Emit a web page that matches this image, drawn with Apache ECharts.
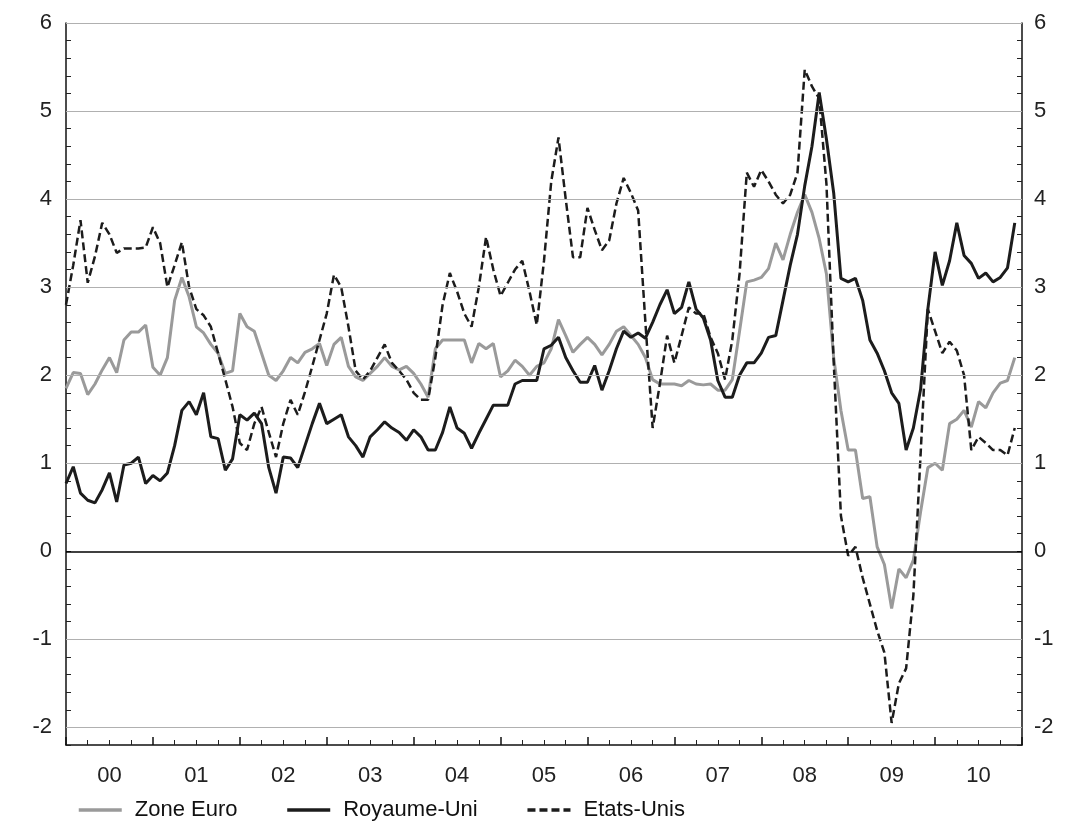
<!DOCTYPE html>
<html><head><meta charset="utf-8">
<script src="https://cdn.jsdelivr.net/npm/echarts@6/dist/echarts.min.js"></script>
<style>html,body{margin:0;padding:0;background:#fff}#c{width:1073px;height:822px}</style>
</head><body><div id="c"></div>
<script>
const yearLabels = ['00','01','02','03','04','05','06','07','08','09','10'];
const seriesNames = ['Zone Euro','Royaume-Uni','Etats-Unis'];
const gridValues = [-2,-1,1,2,3,4,5,6];
// monthly values Jan 2000 - Dec 2010
const zoneEuro = [
 1.85,2.03,2.02,1.78,1.9,2.06,2.2,2.03,2.4,2.49,2.49,2.57,
 2.09,2.0,2.2,2.85,3.11,2.89,2.55,2.48,2.35,2.25,2.02,2.05,
 2.7,2.55,2.5,2.25,2.0,1.94,2.05,2.2,2.14,2.26,2.3,2.36,
 2.11,2.35,2.43,2.1,1.98,1.94,2.02,2.1,2.2,2.1,2.06,2.1,
 2.02,1.9,1.75,2.3,2.4,2.4,2.4,2.4,2.14,2.36,2.3,2.36,
 1.98,2.05,2.17,2.1,2.0,2.1,2.14,2.3,2.63,2.45,2.26,2.35,
 2.43,2.35,2.23,2.35,2.5,2.55,2.45,2.35,2.2,1.95,1.9,1.9,
 1.9,1.88,1.94,1.9,1.89,1.9,1.83,1.83,1.95,2.5,3.06,3.08,
 3.11,3.21,3.5,3.31,3.6,3.85,4.05,3.85,3.55,3.15,2.2,1.6,
 1.15,1.15,0.6,0.62,0.05,-0.15,-0.65,-0.2,-0.3,-0.1,0.45,0.95,
 1.0,0.92,1.45,1.5,1.6,1.41,1.7,1.63,1.8,1.91,1.94,2.2
];
const royaumeUni = [
 0.77,0.96,0.66,0.58,0.55,0.7,0.89,0.56,0.98,1.0,1.07,0.77,
 0.86,0.8,0.89,1.2,1.6,1.7,1.55,1.8,1.3,1.28,0.92,1.05,
 1.55,1.49,1.57,1.45,0.95,0.66,1.07,1.06,0.95,1.2,1.45,1.68,
 1.45,1.5,1.55,1.3,1.2,1.07,1.3,1.38,1.47,1.4,1.35,1.26,
 1.38,1.3,1.15,1.15,1.35,1.64,1.4,1.34,1.17,1.34,1.5,1.66,
 1.66,1.66,1.9,1.94,1.94,1.94,2.3,2.34,2.43,2.2,2.05,1.92,
 1.92,2.11,1.83,2.05,2.3,2.5,2.43,2.48,2.42,2.6,2.8,2.97,
 2.7,2.77,3.06,2.75,2.65,2.4,1.94,1.75,1.75,2.0,2.14,2.14,
 2.25,2.43,2.45,2.85,3.25,3.6,4.15,4.6,5.21,4.68,4.07,3.1,
 3.06,3.1,2.85,2.4,2.25,2.05,1.8,1.68,1.15,1.4,1.84,2.75,
 3.4,3.02,3.3,3.73,3.36,3.27,3.1,3.16,3.06,3.11,3.22,3.73
];
const etatsUnis = [
 2.8,3.25,3.76,3.05,3.35,3.73,3.6,3.39,3.44,3.44,3.44,3.45,
 3.68,3.5,3.0,3.25,3.51,3.0,2.75,2.68,2.55,2.25,1.95,1.64,
 1.23,1.15,1.45,1.64,1.35,1.07,1.45,1.72,1.55,1.81,2.1,2.4,
 2.7,3.14,3.0,2.55,2.05,1.95,2.05,2.2,2.35,2.14,2.05,1.95,
 1.8,1.72,1.72,2.2,2.8,3.16,2.95,2.7,2.55,3.0,3.57,3.2,
 2.9,3.05,3.2,3.3,2.95,2.57,3.3,4.2,4.7,4.0,3.34,3.34,
 3.9,3.65,3.42,3.53,3.95,4.24,4.07,3.87,2.6,1.4,1.9,2.45,
 2.14,2.45,2.77,2.7,2.7,2.43,2.25,1.95,2.4,3.15,4.3,4.14,
 4.33,4.2,4.05,3.95,4.05,4.3,5.47,5.28,5.14,4.17,2.15,0.4,
 -0.05,0.05,-0.3,-0.6,-0.9,-1.15,-1.95,-1.5,-1.33,-0.5,1.1,2.75,
 2.5,2.25,2.38,2.28,2.0,1.15,1.3,1.23,1.15,1.15,1.09,1.4
];

const FONT = "'Liberation Sans', Arial, sans-serif";
const toPairs = arr => arr.map((v, i) => [i, v]);
const isInt = v => Math.abs(v - Math.round(v)) < 1e-6;

function yAxis(pos, margin) {
  return {
    type: 'value', position: pos, min: -2.2, max: 6, interval: 0.2,
    axisLine: { show: true, onZero: false, lineStyle: { color: '#111', width: 1.5 } },
    axisTick: { show: true, inside: true, length: 5, lineStyle: { color: '#222', width: 1 } },
    axisLabel: { formatter: v => isInt(v) ? String(Math.round(v)) : '', fontSize: 22, color: '#222', fontFamily: FONT, margin: margin },
    splitLine: { show: false }
  };
}

const chart = echarts.init(document.getElementById('c'), null, { renderer: 'canvas' });
chart.setOption({
  animation: false,
  backgroundColor: '#fff',
  grid: { left: 66, right: 51, top: 23, bottom: 77, containLabel: false },
  legend: {
    data: seriesNames, top: 794, left: 72, itemWidth: 43, itemHeight: 14, itemGap: 48,
    itemStyle: { opacity: 0 },
    lineStyle: { width: 3.5 },
    textStyle: { fontSize: 22, color: '#111', fontFamily: FONT, padding: [0, 0, 0, 8] }
  },
  xAxis: [
    {
      type: 'value', min: 0, max: 132, interval: 12,
      axisLine: { show: true, onZero: false, lineStyle: { color: '#111', width: 1.5 } },
      axisTick: { show: true, inside: true, length: 8, lineStyle: { color: '#111', width: 1.5 } },
      minorTick: { show: true, splitNumber: 4, length: 5, lineStyle: { color: '#222', width: 1 } },
      axisLabel: { show: false }, splitLine: { show: false }
    },
    {
      type: 'category', data: yearLabels, position: 'bottom', boundaryGap: true,
      axisLine: { show: false, onZero: false }, axisTick: { show: false },
      axisLabel: { fontSize: 22, color: '#222', fontFamily: FONT, margin: 20 }
    }
  ],
  yAxis: [yAxis('left', 14), yAxis('right', 12)],
  series: [
    {
      name: seriesNames[0], type: 'line', data: toPairs(zoneEuro), symbol: 'none', z: 2,
      lineStyle: { color: '#9a9a9a', width: 3 }, itemStyle: { color: '#9a9a9a' },
      markLine: {
        silent: true, symbol: 'none', label: { show: false }, animation: false,
        lineStyle: { color: '#b0b0b0', type: 'solid', width: 1.2 },
        data: gridValues.map(v => ({ yAxis: v })).concat([{ yAxis: 0, lineStyle: { color: '#000', width: 1.5, type: 'solid' } }])
      }
    },
    {
      name: seriesNames[1], type: 'line', data: toPairs(royaumeUni), symbol: 'none', z: 3,
      lineStyle: { color: '#1c1c1c', width: 3 }, itemStyle: { color: '#1c1c1c' }
    },
    {
      name: seriesNames[2], type: 'line', data: toPairs(etatsUnis), symbol: 'none', z: 4,
      lineStyle: { color: '#1c1c1c', width: 2.5, type: [8, 4] }, itemStyle: { color: '#1c1c1c' }
    }
  ]
});
</script></body></html>
